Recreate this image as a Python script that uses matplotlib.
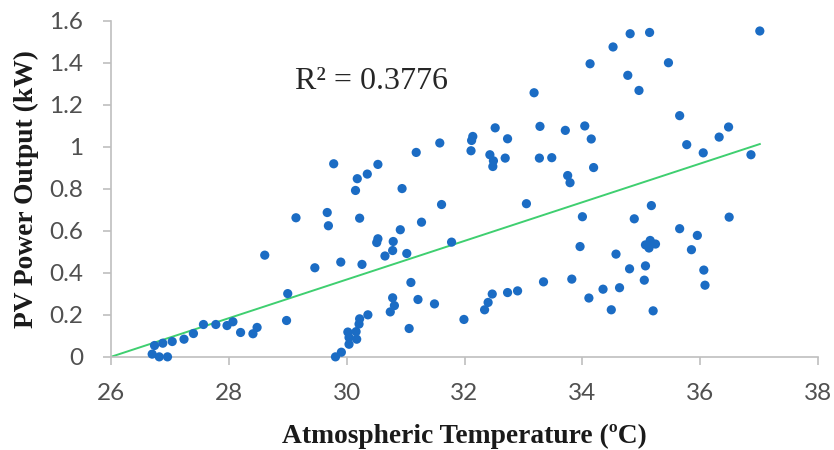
import matplotlib
matplotlib.use("Agg")
import matplotlib.pyplot as plt
import numpy as np

# Atmospheric temperature (°C)
temperature = [
    29.78, 29.14, 29.67, 29.69, 28.61, 29.46, 29.90, 29.00, 28.98, 28.48,
    28.41, 28.20, 28.07, 27.97, 27.78, 27.57, 27.40, 27.24, 27.04, 26.88,
    26.74, 26.70, 26.82, 26.96, 29.81, 29.91,
    32.52, 32.14, 32.12, 31.58, 31.18, 32.11, 32.43, 32.49, 32.48, 30.53,
    30.35, 30.18, 30.15, 30.94, 31.61, 30.22, 31.27, 30.91, 30.53, 30.51,
    30.79, 30.78, 30.65, 31.02, 31.78, 30.26, 31.09, 30.78, 30.81, 30.74,
    31.21, 31.49, 31.99, 32.47, 32.40, 32.34, 31.06, 30.36, 30.22, 30.21,
    30.02, 30.16, 30.04, 30.17, 30.04,
    34.13, 34.77, 34.96, 33.18, 33.28, 33.71, 34.04, 34.15, 32.73, 32.69,
    33.27, 33.48, 33.75, 33.79, 34.19, 33.05, 34.00, 33.96, 34.88, 34.57,
    34.80, 35.07, 35.05, 33.82, 33.34, 34.35, 34.63, 34.11, 34.49, 32.90,
    32.73, 35.17,
    37.01, 35.14, 34.81, 34.52, 35.46, 35.65, 36.48, 36.32, 35.77, 36.05,
    36.86, 36.49, 35.65, 35.95, 35.07, 35.15, 35.24, 35.13, 35.85, 36.06,
    36.08, 35.20,
]

# PV power output (kW)
pv_power = [
    0.919, 0.662, 0.687, 0.624, 0.484, 0.424, 0.451, 0.301, 0.173, 0.140,
    0.110, 0.116, 0.167, 0.149, 0.154, 0.154, 0.111, 0.084, 0.073, 0.065,
    0.054, 0.013, 0.000, 0.000, 0.000, 0.022,
    1.090, 1.049, 1.030, 1.018, 0.973, 0.981, 0.962, 0.933, 0.906, 0.916,
    0.870, 0.848, 0.792, 0.801, 0.725, 0.660, 0.641, 0.605, 0.562, 0.544,
    0.549, 0.506, 0.480, 0.492, 0.546, 0.440, 0.354, 0.281, 0.244, 0.214,
    0.273, 0.252, 0.178, 0.299, 0.259, 0.224, 0.135, 0.200, 0.181, 0.156,
    0.118, 0.120, 0.092, 0.084, 0.060,
    1.395, 1.340, 1.268, 1.257, 1.097, 1.078, 1.099, 1.037, 1.038, 0.946,
    0.946, 0.948, 0.863, 0.829, 0.901, 0.729, 0.667, 0.525, 0.657, 0.489,
    0.419, 0.433, 0.365, 0.370, 0.357, 0.322, 0.329, 0.280, 0.224, 0.314,
    0.306, 0.720,
    1.551, 1.544, 1.538, 1.475, 1.400, 1.148, 1.094, 1.046, 1.010, 0.971,
    0.962, 0.665, 0.610, 0.578, 0.533, 0.554, 0.537, 0.518, 0.510, 0.413,
    0.341, 0.219,
]

# Linear trendline (as displayed) and its R²
trend_slope = 0.0920
trend_intercept = -2.392
trend_x_range = [26.0, 37.01]
r_squared = 0.3776

x_ticks = [26, 28, 30, 32, 34, 36, 38]
y_ticks = [0, 0.2, 0.4, 0.6, 0.8, 1.0, 1.2, 1.4, 1.6]
y_tick_labels = ["0", "0.2", "0.4", "0.6", "0.8", "1", "1.2", "1.4", "1.6"]

fig = plt.figure(figsize=(8.34, 4.5), dpi=100)
ax = fig.add_axes([0.133, 0.207, 0.848, 0.747])

ax.scatter(temperature, pv_power, s=44, color="#1b6cc4", edgecolors="none", zorder=3, clip_on=False)

tx = np.array(trend_x_range)
ax.plot(tx, trend_slope * tx + trend_intercept, color="#3fcf70", linewidth=1.4, zorder=2)

ax.set_xlim(26, 38)
ax.set_ylim(0, 1.6)
ax.set_xticks(x_ticks)
ax.set_yticks(y_ticks)
ax.set_yticklabels(y_tick_labels)

for side in ["top", "right"]:
    ax.spines[side].set_visible(False)
for side in ["left", "bottom"]:
    ax.spines[side].set_color("#bfbfbf")
    ax.spines[side].set_linewidth(1.2)

ax.tick_params(axis="both", which="major", direction="out", length=6, width=1.2,
               color="#bfbfbf", labelcolor="#505050", labelsize=17.5)
ax.tick_params(axis="x", pad=13)
ax.tick_params(axis="y", pad=14)
for lbl in ax.get_xticklabels() + ax.get_yticklabels():
    lbl.set_family(["Lato", "DejaVu Sans"])

ax.set_xlabel("Atmospheric Temperature (ºC)", family=["Liberation Serif", "DejaVu Serif"],
              fontweight="bold", fontsize=19.8, color="#1a1a1a")
ax.set_ylabel("PV Power Output (kW)", family=["Liberation Serif", "DejaVu Serif"],
              fontweight="bold", fontsize=19.8, color="#1a1a1a")
ax.xaxis.set_label_coords(0.5, -0.2)
ax.yaxis.set_label_coords(-0.102, 0.5)

ax.text(29.12, 1.31, f"R² = {r_squared:.4f}", family=["Liberation Serif", "DejaVu Serif"],
        fontsize=23, color="#262626", ha="left", va="center")

fig.savefig("out.png", dpi=100)
